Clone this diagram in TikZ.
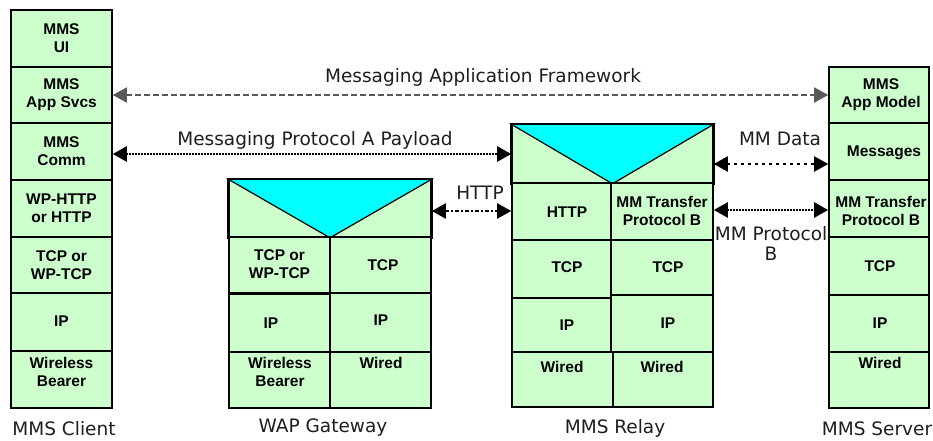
\documentclass[tikz,border=0pt]{standalone}
\usepackage{fontspec}
\setmainfont{Liberation Sans}
\newfontfamily\captionfont{DejaVu Sans}
\usetikzlibrary{arrows.meta}

\definecolor{layergreen}{HTML}{CCFFCC}
\definecolor{relaycyan}{HTML}{00FFFF}
\definecolor{inkgrey}{HTML}{1E1E1E}

% one protocol layer: name, corners (x1,y1)-(x2,y2), text position, text
\newcommand\layer[8]{%
  \node[cell, minimum width={(#4)-(#2)}, minimum height={(#5)-(#3)}]
    (#1) at ({((#2)+(#4))/2},{((#3)+(#5))/2}) {};
  \node[celltext] (#1-t) at (#6,#7) {#8};
}

\begin{document}
\begin{tikzpicture}[x=1pt,y=-1pt,
  cell/.style={draw=black, line width=1.6pt, fill=layergreen, inner sep=0pt},
  celltext/.style={align=center, inner sep=0pt, text=black,
    font=\bfseries\fontsize{15.5}{18}\selectfont},
  caption/.style={align=center, inner sep=0pt, text=inkgrey,
    font=\captionfont\fontsize{18.5}{20}\selectfont},
  link/.style={line width=1.8pt, black, {Triangle[length=14pt,width=15pt]}-{Triangle[length=14pt,width=15pt]}},
  framework/.style={link, line width=1.6pt, draw=black!65, dash pattern=on 6pt off 3pt},
  dense/.style={link, line width=2.4pt, dash pattern=on 2pt off 1pt},
  dashdot/.style={link, line width=2pt, dash pattern=on 4pt off 2pt on 2pt off 2pt},
  sparse/.style={link, line width=2pt, dash pattern=on 2.5pt off 4.5pt},
]
\useasboundingbox (0,0) rectangle (933,441);

% ---------------- MMS Client stack
\layer{c1}{11}{10}{112}{67}{61.5}{38.5}{MMS\\UI}
\layer{c2}{11}{67}{112}{123}{61.5}{95}{MMS\\App Svcs}
\layer{c3}{11}{123}{112}{180}{61.5}{151.5}{MMS\\Comm}
\layer{c4}{11}{180}{112}{237}{61.5}{208.5}{WP-HTTP\\or HTTP}
\layer{c5}{11}{237}{112}{293}{61.5}{265}{TCP or\\WP-TCP}
\layer{c6}{11}{293}{112}{351}{61.5}{321}{IP}
\layer{c7}{11}{351}{112}{408}{61.5}{372}{Wireless\\Bearer}
\node[caption] (client) at (64,429) {MMS Client};

% ---------------- WAP Gateway
\layer{g0}{229}{180}{431}{237}{330}{208}{}
\filldraw[fill=relaycyan, draw=black, line width=1.2pt]
  (g0.north west) -- (g0.north east) -- (g0.south) -- cycle;
\draw[line width=1.6pt] (g0.north west) rectangle (g0.south east);
\layer{gl1}{229}{237}{330}{293}{279.5}{264}{TCP or\\WP-TCP}
\layer{gl2}{229}{293}{330}{352}{271}{323}{IP}
\layer{gl3}{229}{352}{330}{408}{280}{372}{Wireless\\Bearer}
\layer{gr1}{330}{237}{431}{293}{383}{265}{TCP}
\layer{gr2}{330}{293}{431}{352}{381}{320}{IP}
\layer{gr3}{330}{352}{431}{408}{381}{363}{Wired}
\draw[line width=2.6pt] (gl1.south west) -- (gl1.south east);
\node[caption] (gateway) at (323,428) {WAP Gateway};

% ---------------- MMS Relay
\layer{r0}{512}{125}{713}{183}{612}{154}{}
\filldraw[fill=relaycyan, draw=black, line width=1.2pt]
  (r0.north west) -- (r0.north east) -- (r0.south) -- cycle;
\draw[line width=1.6pt] (r0.north west) rectangle (r0.south east);
\layer{rl1}{512}{183}{611}{240}{567}{212}{HTTP}
\layer{rl2}{512}{240}{611}{298}{567}{267}{TCP}
\layer{rl3}{512}{298}{611}{352}{567}{325}{IP}
\layer{rl4}{512}{352}{613}{407}{562}{367}{Wired}
\layer{rr1}{611}{183}{713}{240}{662}{211}{MM Transfer\\Protocol B}
\layer{rr2}{611}{240}{713}{295}{668}{267}{TCP}
\layer{rr3}{611}{295}{713}{352}{668}{323}{IP}
\layer{rr4}{613}{352}{713}{407}{662}{367}{Wired}
\node[caption] (relay) at (615,428) {MMS Relay};

% ---------------- MMS Server stack
\layer{s1}{829}{67}{929}{123}{881}{95}{MMS\\App Model}
\layer{s2}{829}{123}{929}{180}{884}{153}{Messages}
\layer{s3}{829}{180}{929}{237}{881}{211}{MM Transfer\\Protocol B}
\layer{s4}{829}{237}{929}{295}{880}{266}{TCP}
\layer{s5}{829}{295}{929}{352}{880}{323}{IP}
\layer{s6}{829}{352}{929}{408}{880}{363}{Wired}
\node[caption] (server) at (877,429) {MMS Server};

% ---------------- peer-to-peer links
\draw[framework] (c2.east) -- (s1.west);
\node[caption] (lframe) at (483,77) {Messaging Application Framework};

\draw[dense] (r0.west -| c3.east) -- (r0.west);
\node[caption] (lpayload) at (315,140) {Messaging Protocol A Payload};

\coordinate (httpy) at (0,211);
\draw[dashdot] (httpy -| g0.east) -- (httpy -| rl1.west);
\node[caption] (lhttp) at (480,193) {HTTP};

\coordinate (datay) at (0,164);
\draw[sparse] (datay -| r0.east) -- (datay -| s2.west);
\node[caption] (ldata) at (780,139) {MM Data};

\coordinate (protoy) at (0,210);
\draw[dense] (protoy -| rr1.east) -- (protoy -| s3.west);
\node[caption] (lproto) at (771,243) {MM Protocol\\B};
\end{tikzpicture}
\end{document}
